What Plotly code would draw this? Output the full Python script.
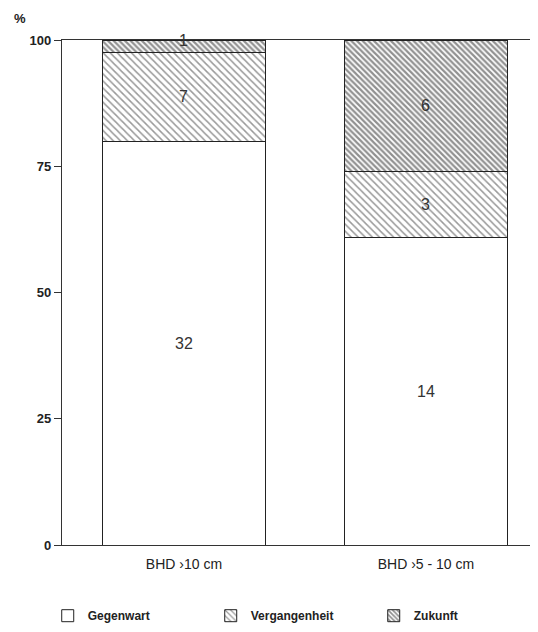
import plotly.graph_objects as go

# counts per diameter class (labels printed inside the bars)
categories = ["BHD \u203a10 cm", "BHD \u203a5 - 10 cm"]
gegenwart = [32, 14]
vergangenheit = [7, 3]
zukunft = [1, 6]

totals = [g + v + z for g, v, z in zip(gegenwart, vergangenheit, zukunft)]
pct = lambda vals: [v / t * 100 for v, t in zip(vals, totals)]

series = [
    ("Gegenwart", gegenwart, dict(shape="")),
    ("Vergangenheit", vergangenheit, dict(shape="\\", size=5, solidity=0.3, fgcolor="#333", bgcolor="white")),
    ("Zukunft", zukunft, dict(shape="\\", size=4, solidity=0.55, fgcolor="#222", bgcolor="white")),
]

fig = go.Figure()
base = [0.0, 0.0]
annotations = []
for name, vals, pattern in series:
    p = pct(vals)
    fig.add_trace(go.Bar(
        name=name, x=categories, y=p, width=0.67,
        marker=dict(color="white", line=dict(color="#222", width=1), pattern=pattern),
    ))
    for i, (c, v, pv) in enumerate(zip(categories, vals, p)):
        ymid = base[i] + pv / 2
        if pv < 5:  # tiny segment: label sits on the top edge
            ymid = base[i] + pv
        annotations.append(dict(x=c, y=ymid, text=str(v), showarrow=False,
                                font=dict(size=16, color="#333", family="Liberation Sans")))
        base[i] += pv

annotations.append(dict(xref="paper", yref="paper", x=-0.105, y=1.062, text="<b>%</b>",
                        showarrow=False, font=dict(size=13, color="#222")))

# page body has an 8px margin, so the figure is 8px smaller than the window
fig.update_layout(
    width=530, height=624,
    barmode="stack",
    plot_bgcolor="white", paper_bgcolor="white",
    margin=dict(l=54, r=0, t=32, b=87),
    font=dict(family="Liberation Sans", color="#222", size=13),
    showlegend=True,
    legend=dict(orientation="h", x=-0.03, xanchor="left", y=-0.14, yanchor="middle",
                font=dict(size=12, weight="bold"), traceorder="normal",
                entrywidth=118, itemwidth=30),
    annotations=annotations,
)
fig.update_xaxes(range=[-0.504, 1.463], showline=True, linecolor="#333", linewidth=1.2,
                 mirror=True, ticks="", showgrid=False, ticklabelstandoff=6,
                 tickfont=dict(size=14))
fig.update_yaxes(range=[0, 100], tickvals=[0, 25, 50, 75, 100], showline=True, linecolor="#333",
                 linewidth=1.2, ticks="outside", ticklen=7, tickcolor="#333", showgrid=False,
                 zeroline=False, tickfont=dict(size=13, weight="bold"))

fig.write_html("out.html")
